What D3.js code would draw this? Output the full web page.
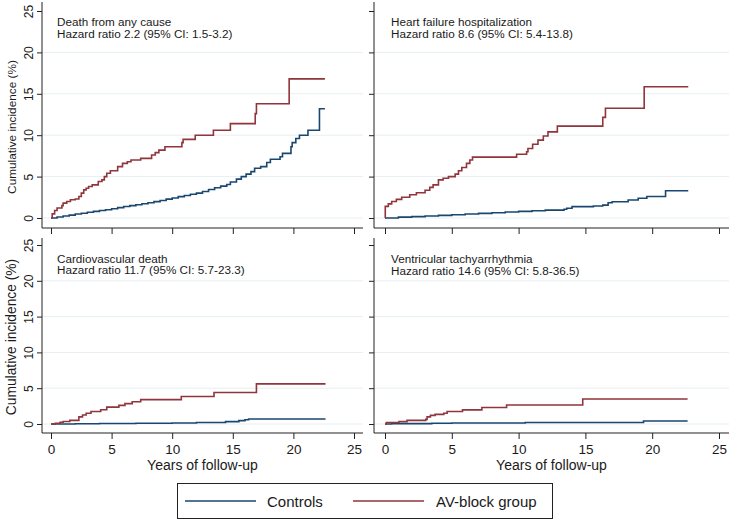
<!DOCTYPE html>
<html>
<head>
<meta charset="utf-8">
<script src="https://cdn.jsdelivr.net/npm/d3@7"></script>
<style>
  html, body { margin: 0; padding: 0; background: #fff; }
  svg text { font-family: "Liberation Sans", Arial, sans-serif; fill: #1a1a1a; }
</style>
</head>
<body>
<svg id="chart" width="731" height="521"></svg>
<script>
// ---------------- DATA ----------------
const panelTitles = ["Death from any cause", "Heart failure hospitalization", "Cardiovascular death", "Ventricular tachyarrhythmia"];
const hazardTexts = ["Hazard ratio 2.2 (95% CI: 1.5-3.2)", "Hazard ratio 8.6 (95% CI: 5.4-13.8)", "Hazard ratio 11.7 (95% CI: 5.7-23.3)", "Hazard ratio 14.6 (95% CI: 5.8-36.5)"];
const seriesNames = ["Controls", "AV-block group"];
const xTicks = [0, 5, 10, 15, 20, 25];
const yTicks = [0, 5, 10, 15, 20, 25];
const yTitle = "Cumulative incidence (%)";
const xTitle = "Years of follow-up";

// [years, cumulative incidence %]
const deathAV = [[0,0],[0.1,0.5],[0.3,0.9],[0.5,1.2],[0.9,1.5],[1.0,1.8],[1.3,2.0],[1.6,2.2],[2.0,2.3],[2.3,2.6],[2.5,3.0],[2.7,3.4],[2.9,3.6],[3.1,3.8],[3.4,4.0],[3.9,4.4],[4.2,4.6],[4.4,5.0],[4.6,5.4],[4.9,5.7],[5.5,6.2],[5.9,6.6],[6.3,6.8],[6.6,7.0],[7.4,7.2],[8.3,7.6],[8.6,7.9],[8.9,8.2],[9.4,8.6],[10.8,9.1],[10.9,9.5],[11.9,10.0],[13.4,10.6],[14.8,11.4],[16.85,12.6],[16.95,13.8],[19.65,16.8],[22.6,16.8]];
const deathCtrl = [[0,0],[0.5,0.12],[1,0.25],[1.5,0.35],[2,0.48],[2.5,0.58],[3,0.7],[3.5,0.8],[4,0.9],[4.5,1.0],[5,1.12],[5.5,1.25],[6,1.38],[6.5,1.5],[7,1.6],[7.5,1.72],[8,1.85],[8.5,1.98],[9,2.12],[9.5,2.28],[10,2.42],[10.5,2.58],[11,2.72],[11.5,2.86],[12,3.0],[12.5,3.2],[13,3.45],[13.5,3.65],[14,3.85],[14.5,4.05],[14.8,4.35],[15.3,4.7],[15.7,5.0],[16.1,5.3],[16.5,5.6],[16.8,6.0],[17.3,6.2],[17.8,6.7],[18.1,7.1],[18.9,7.4],[19.1,7.8],[19.8,8.6],[19.9,9.1],[20.2,9.6],[20.5,10.0],[21.2,10.6],[22.15,13.2],[22.6,13.2]];
const hfAV = [[0,0],[0.02,1.4],[0.25,1.7],[0.5,2.0],[0.85,2.25],[1.25,2.5],[1.85,2.8],[2.35,3.05],[3.0,3.35],[3.35,3.7],[3.6,4.0],[4.0,4.6],[4.35,4.8],[4.75,5.0],[5.25,5.3],[5.5,5.7],[5.75,6.1],[6.1,6.6],[6.35,7.0],[6.55,7.35],[9.85,7.7],[10.6,8.0],[10.7,8.4],[11.05,8.9],[11.45,9.4],[11.85,9.9],[12.2,10.4],[12.9,11.1],[16.3,12.15],[16.5,13.25],[19.4,15.85],[22.7,15.85]];
const hfCtrl = [[0,0],[1,0.1],[2,0.17],[3,0.25],[4,0.32],[5,0.4],[6,0.48],[7,0.56],[8,0.64],[9,0.72],[10,0.8],[11,0.88],[12,0.95],[13.4,1.05],[13.6,1.17],[14.0,1.37],[15.6,1.45],[16.3,1.55],[16.7,1.85],[17.0,1.97],[18.2,2.17],[18.95,2.38],[19.6,2.6],[21.0,3.3],[22.7,3.3]];
const cvAV = [[0,0],[0.35,0.1],[0.75,0.25],[1.0,0.35],[1.55,0.5],[2.3,1.0],[2.6,1.25],[2.9,1.5],[3.3,1.75],[4.1,2.0],[4.6,2.35],[5.6,2.6],[6.1,2.85],[6.7,3.1],[7.4,3.4],[10.75,3.85],[13.45,4.4],[16.95,5.6],[22.65,5.6]];
const cvCtrl = [[0,0],[2,0.03],[4,0.06],[7,0.1],[10,0.15],[12,0.2],[14.4,0.33],[15.5,0.47],[16.0,0.6],[16.3,0.7],[22.65,0.7]];
const vtAV = [[0,0],[0.1,0.2],[1.05,0.33],[1.65,0.5],[3.05,0.65],[3.15,1.0],[3.4,1.2],[3.75,1.35],[4.4,1.5],[4.65,1.75],[5.8,1.97],[7.25,2.3],[9.1,2.65],[14.8,3.5],[22.65,3.5]];
const vtCtrl = [[0,0],[0.5,0.05],[3.5,0.1],[5.0,0.15],[10.5,0.2],[19.35,0.42],[22.65,0.42]];

const colors = ["#1a476f", "#90353b"];

// ---------------- LAYOUT ----------------
const panels = [
  { title: 0, ctrl: deathCtrl, av: deathAV, x0: 51, x25: 354, axL: 42, axR: 363, y0: 218, y25: 11, axT: 2, axB: 228, left: true, bottom: false, txtX: 57, txtY: [26, 37.5], ytSize: 11.8, ytCenter: 127 },
  { title: 1, ctrl: hfCtrl, av: hfAV, x0: 385, x25: 719, axL: 374, axR: 729, y0: 218, y25: 11, axT: 2, axB: 228, left: false, bottom: false, txtX: 391, txtY: [26, 37.5] },
  { title: 2, ctrl: cvCtrl, av: cvAV, x0: 51, x25: 354, axL: 42, axR: 363, y0: 424, y25: 245, axT: 238, axB: 433, left: true, bottom: true, txtX: 57, txtY: [262.7, 274.3], ytSize: 13.8, ytCenter: 337 },
  { title: 3, ctrl: vtCtrl, av: vtAV, x0: 385, x25: 719, axL: 374, axR: 729, y0: 424, y25: 245, axT: 238, axB: 433, left: false, bottom: true, txtX: 391, txtY: [263.3, 275] }
];

const svg = d3.select("#chart");

panels.forEach(p => {
  const x = d3.scaleLinear().domain([0, 25]).range([p.x0, p.x25]);
  const y = d3.scaleLinear().domain([0, 25]).range([p.y0, p.y25]);
  const g = svg.append("g");

  // gridlines
  g.selectAll("line.grid").data(yTicks.filter(v => v < 25)).enter().append("line")
    .attr("x1", p.axL).attr("x2", p.axR)
    .attr("y1", d => y(d)).attr("y2", d => y(d))
    .attr("stroke", "#e6eff2").attr("stroke-width", 1);

  // y axis
  const yAxis = d3.axisLeft(y).tickValues(yTicks).tickSize(5).tickFormat(p.left ? d3.format("d") : () => "");
  const ya = g.append("g").attr("transform", `translate(${p.axL},0)`).call(yAxis);
  ya.select(".domain").remove();
  ya.selectAll(".tick line").attr("stroke", "#222");
  ya.selectAll(".tick text")
    .attr("x", 0).attr("y", 0).attr("dy", null)
    .attr("text-anchor", "middle")
    .attr("transform", `translate(${33 - p.axL},0) rotate(-90)`)
    .style("font-size", "12px").style("fill", "#1a1a1a");
  g.append("line").attr("x1", p.axL).attr("x2", p.axL).attr("y1", p.axT).attr("y2", p.axB)
    .attr("stroke", "#222").attr("stroke-width", 1);

  // x axis
  const xAxis = d3.axisBottom(x).tickValues(xTicks).tickSize(6).tickFormat(p.bottom ? d3.format("d") : () => "");
  const xa = g.append("g").attr("transform", `translate(0,${p.axB})`).call(xAxis);
  xa.select(".domain").remove();
  xa.selectAll(".tick line").attr("stroke", "#222");
  xa.selectAll(".tick text").attr("y", 21).attr("dy", null).style("font-size", "13.5px").style("fill", "#1a1a1a");
  g.append("line").attr("x1", p.axL).attr("x2", p.axR).attr("y1", p.axB).attr("y2", p.axB)
    .attr("stroke", "#222").attr("stroke-width", 1);

  // axis titles
  if (p.left) {
    g.append("text").text(yTitle)
      .attr("transform", `translate(16,${p.ytCenter}) rotate(-90)`)
      .attr("text-anchor", "middle").style("font-size", p.ytSize + "px");
  }
  if (p.bottom) {
    g.append("text").text(xTitle)
      .attr("x", (p.axL + p.axR) / 2).attr("y", 470)
      .attr("text-anchor", "middle").style("font-size", "14px");
  }

  // curves
  const line = d3.line().x(d => x(d[0])).y(d => y(d[1])).curve(d3.curveStepAfter);
  [p.ctrl, p.av].forEach((data, i) => {
    g.append("path").datum(data).attr("d", line)
      .attr("fill", "none").attr("stroke", colors[i]).attr("stroke-width", 1.6)
      .attr("stroke-linejoin", "miter");
  });

  // panel text
  g.append("text").text(panelTitles[p.title]).attr("x", p.txtX).attr("y", p.txtY[0]).style("font-size", "11.7px");
  g.append("text").text(hazardTexts[p.title]).attr("x", p.txtX).attr("y", p.txtY[1]).style("font-size", "11.7px");
});

// ---------------- LEGEND ----------------
const lg = svg.append("g");
lg.append("rect").attr("x", 177.5).attr("y", 483.5).attr("width", 375).attr("height", 35)
  .attr("fill", "#fff").attr("stroke", "#222").attr("stroke-width", 1);
const legendItems = [
  { x1: 185, x2: 256, tx: 267 },
  { x1: 353, x2: 424, tx: 436 }
];
legendItems.forEach((it, i) => {
  lg.append("line").attr("x1", it.x1).attr("x2", it.x2).attr("y1", 501).attr("y2", 501)
    .attr("stroke", colors[i]).attr("stroke-width", 1.6);
  lg.append("text").text(seriesNames[i]).attr("x", it.tx).attr("y", 506.5).style("font-size", "15px");
});
</script>
</body>
</html>
